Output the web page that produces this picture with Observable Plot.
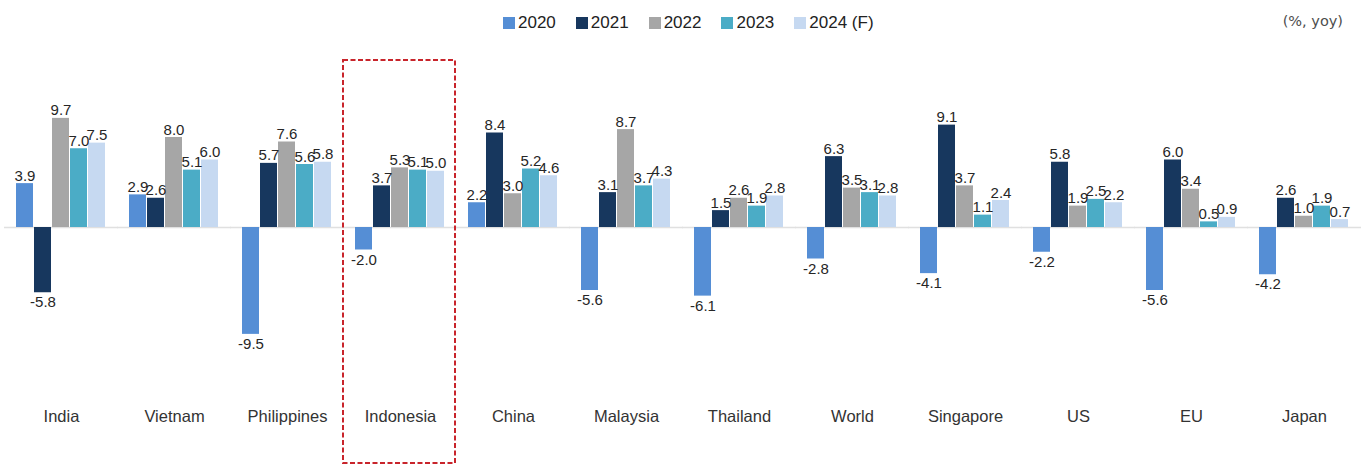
<!DOCTYPE html>
<html>
<head>
<meta charset="utf-8">
<script src="https://cdn.jsdelivr.net/npm/d3@7"></script>
<script src="https://cdn.jsdelivr.net/npm/@observablehq/plot@0.6"></script>
<style>
  body { margin: 0; background: #fff; }
  #wrap { position: relative; width: 1362px; height: 465px; font-family: "Liberation Sans", Arial, sans-serif; }
  #head { position: relative; height: 40px; }
  #legend { position: absolute; left: 503px; top: 6px; }
  #unit { position: absolute; right: 19px; top: 13px; font-family: "DejaVu Sans", sans-serif; font-size: 14.5px; color: #4d4d4d; }
  .lg-swatch { margin-right: 20px !important; }
  .lg-swatch > svg { margin-right: 3px !important; }
</style>
</head>
<body>
<div id="wrap">
  <div id="head"><div id="legend"></div><div id="unit">(%, yoy)</div></div>
  <div id="chart"></div>
</div>
<script>
const countries = ["India", "Vietnam", "Philippines", "Indonesia", "China", "Malaysia", "Thailand", "World", "Singapore", "US", "EU", "Japan"];
const years = ["2020", "2021", "2022", "2023", "2024 (F)"];
const v2020 = [3.9, 2.9, -9.5, -2.0, 2.2, -5.6, -6.1, -2.8, -4.1, -2.2, -5.6, -4.2];
const v2021 = [-5.8, 2.6, 5.7, 3.7, 8.4, 3.1, 1.5, 6.3, 9.1, 5.8, 6.0, 2.6];
const v2022 = [9.7, 8.0, 7.6, 5.3, 3.0, 8.7, 2.6, 3.5, 3.7, 1.9, 3.4, 1.0];
const v2023 = [7.0, 5.1, 5.6, 5.1, 5.2, 3.7, 1.9, 3.1, 1.1, 2.5, 0.5, 1.9];
const v2024 = [7.5, 6.0, 5.8, 5.0, 4.6, 4.3, 2.8, 2.8, 2.4, 2.2, 0.9, 0.7];
const highlighted = ["Indonesia"];
const colors = ["#558ED5", "#17375E", "#A6A6A6", "#4BACC6", "#C6D9F1"];

const series = [v2020, v2021, v2022, v2023, v2024];
const data = [];
countries.forEach((c, i) => {
  years.forEach((y, j) => data.push({country: c, year: y, value: series[j][i]}));
});

const chart = Plot.plot({
  width: 1362,
  height: 425,
  marginLeft: 4,
  marginRight: 0,
  marginTop: 29.5,
  marginBottom: 80.5,
  style: {fontFamily: "'Liberation Sans', Arial, sans-serif", background: "#fff"},
  fx: {domain: countries, paddingInner: 0.2, paddingOuter: 0.1, label: null},
  x: {domain: years, axis: null, paddingInner: 0.05, paddingOuter: 0},
  y: {domain: [-14, 14], axis: null},
  color: {domain: years, range: colors},
  marks: [
    Plot.ruleY([0], {stroke: "#e0e0e0", strokeWidth: 1.5, insetLeft: -12, insetRight: -12}),
    Plot.barY(data, {fx: "country", x: "year", y: "value", fill: "year"}),
    Plot.text(data.filter(d => d.value >= 0), {
      fx: "country", x: "year", y: "value", text: d => d.value.toFixed(1),
      lineAnchor: "bottom", dy: -3, fontSize: 15, fill: "#262626"
    }),
    Plot.text(data.filter(d => d.value < 0), {
      fx: "country", x: "year", y: "value", text: d => d.value.toFixed(1),
      lineAnchor: "top", dy: 4, fontSize: 15, fill: "#262626"
    }),
    Plot.rect(highlighted, {
      fx: d => d, fill: "none", stroke: "#C8242B", strokeWidth: 2, strokeDasharray: "5,2.5",
      insetLeft: -12, insetRight: -10, insetTop: -9.5, insetBottom: -78.5
    }),
    Plot.axisFx({anchor: "bottom", tickSize: 0, tickPadding: 25, fontSize: 16.5, fill: "#333", label: null})
  ]
});
document.getElementById("chart").appendChild(chart);

const legend = Plot.legend({
  color: {domain: years, range: colors},
  legend: "swatches",
  swatchSize: 12,
  className: "lg",
  style: {fontSize: "17px", fontFamily: "'Liberation Sans', Arial, sans-serif", color: "#222"}
});
document.getElementById("legend").appendChild(legend);
</script>
</body>
</html>
